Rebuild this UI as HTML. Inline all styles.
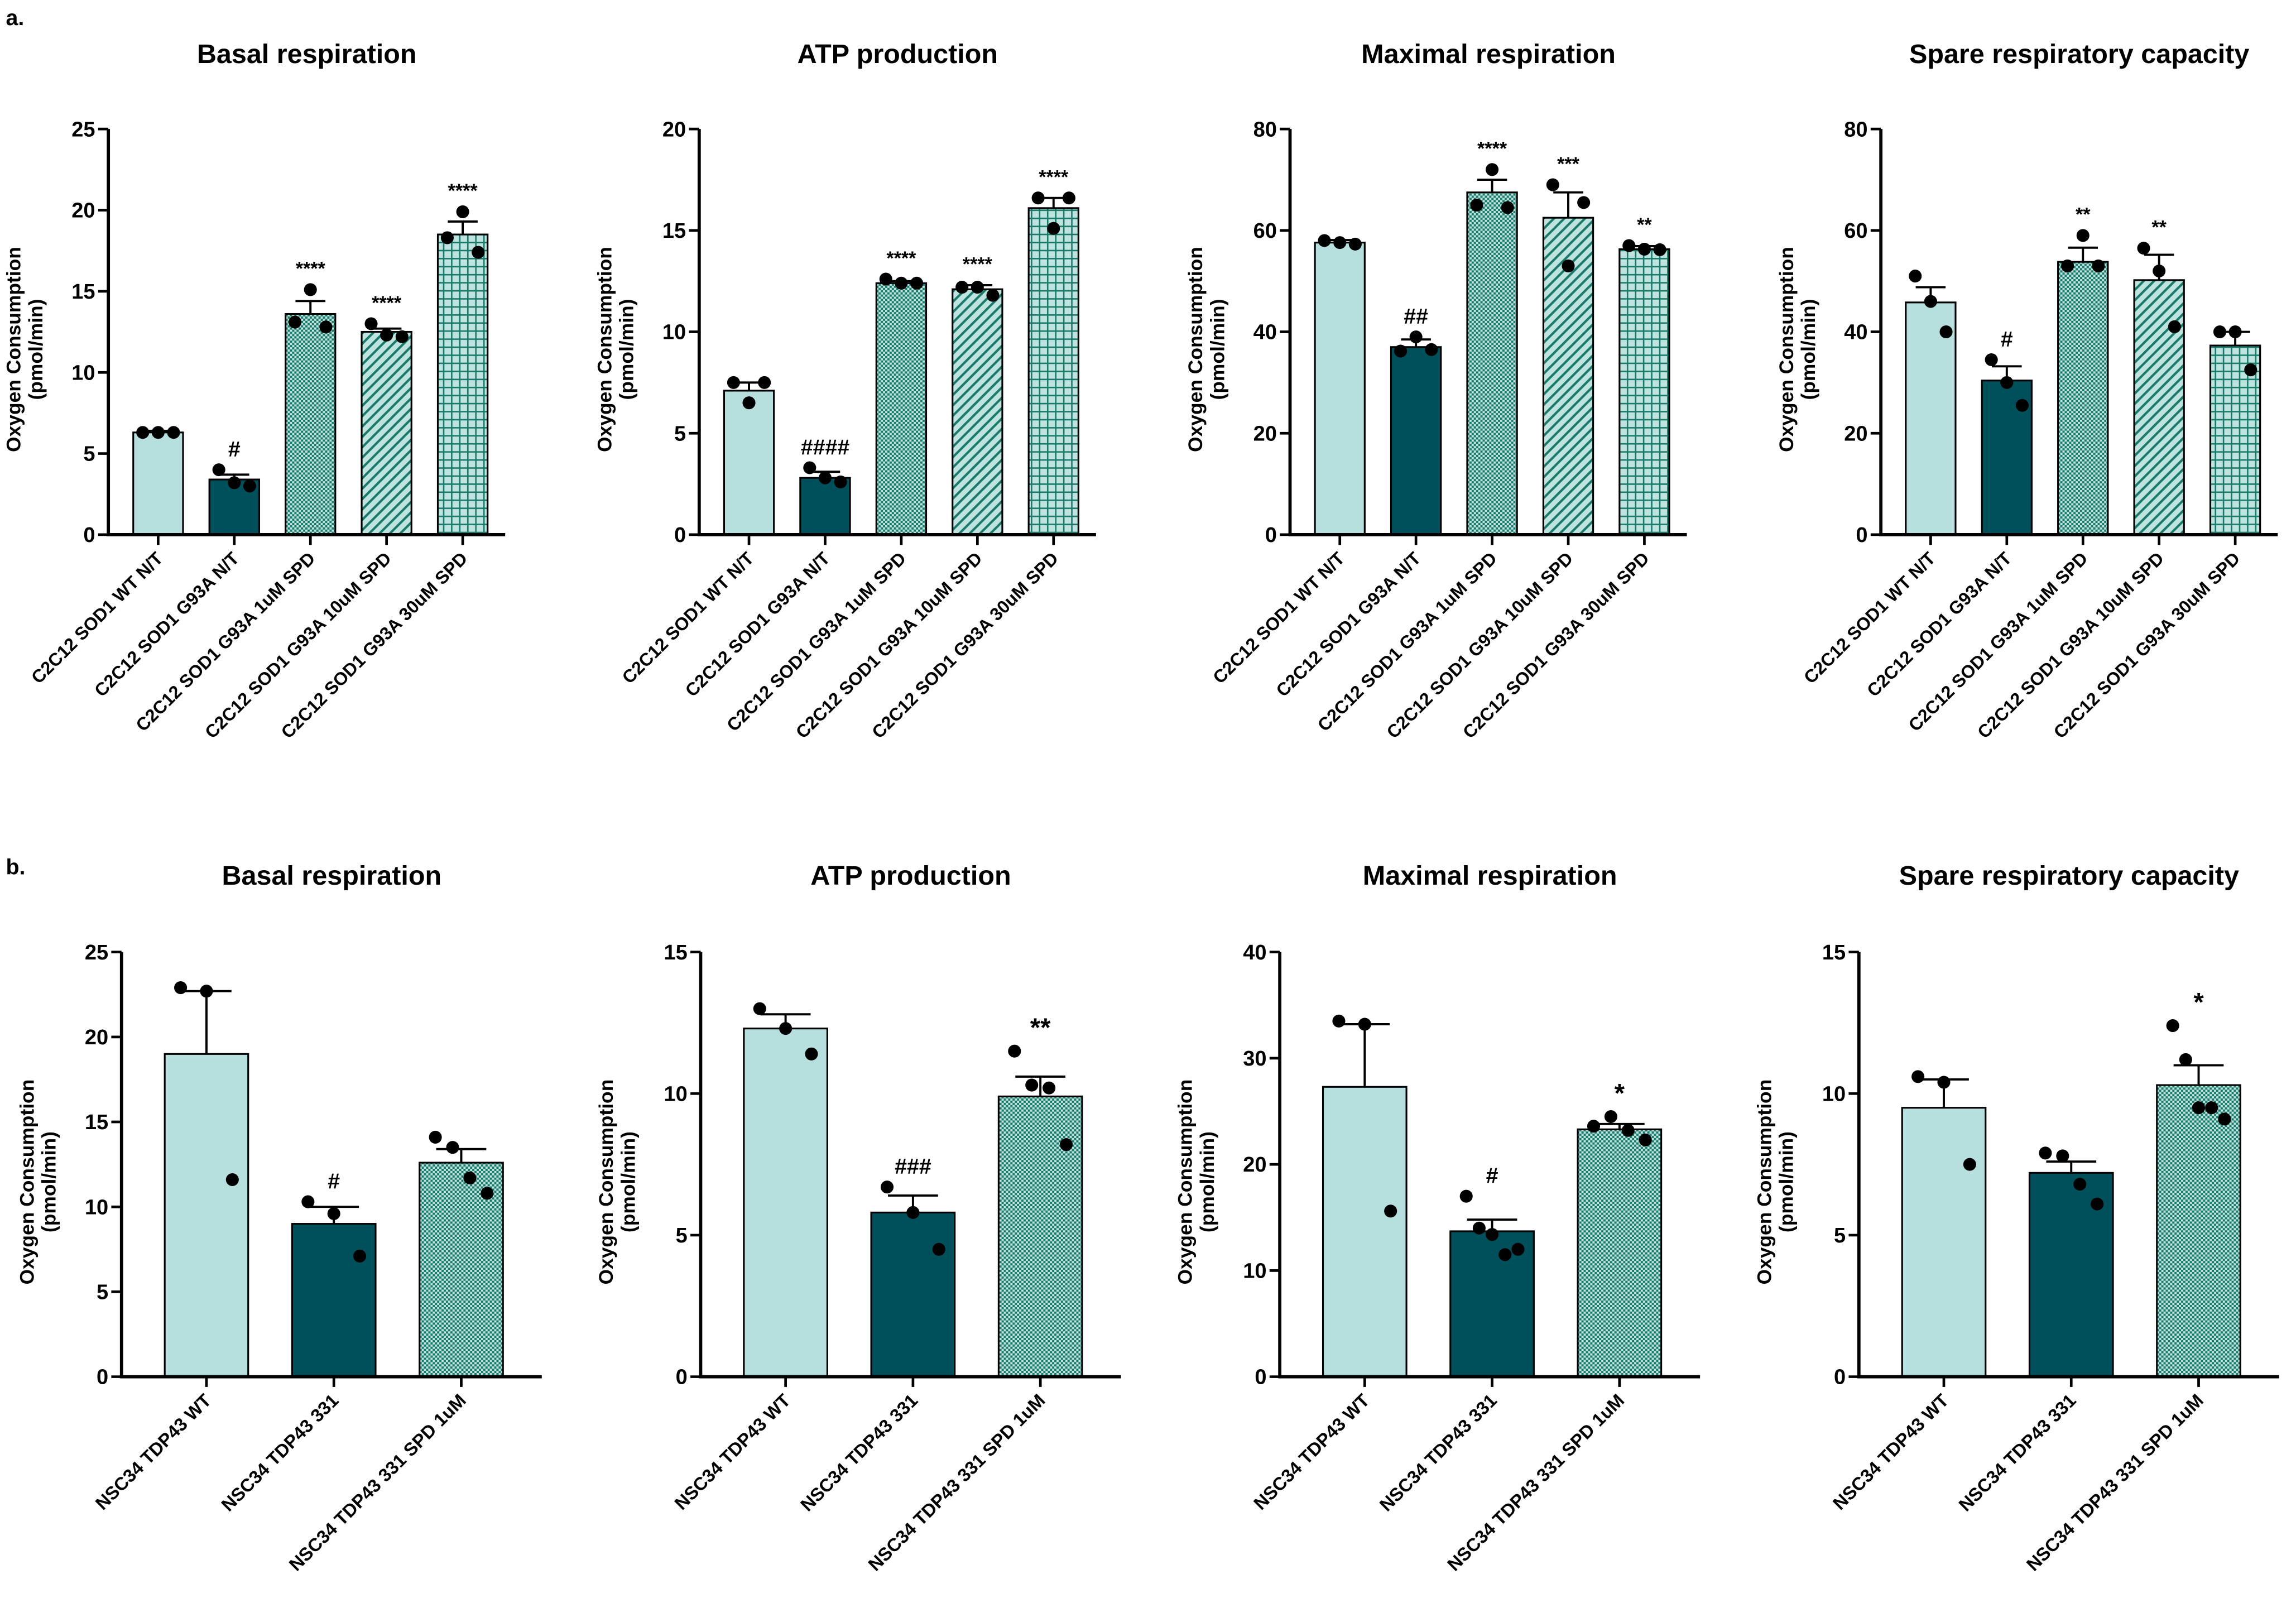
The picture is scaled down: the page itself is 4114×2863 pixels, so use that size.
<!DOCTYPE html>
<html><head><meta charset="utf-8"><style>
html,body{margin:0;padding:0;background:#fff}
svg{display:block}
text{font-family:"Liberation Sans",Arial,sans-serif;font-weight:bold;fill:#000}
</style></head><body>
<svg id="fig" width="4114" height="2863" viewBox="0 0 1568 1091" xmlns="http://www.w3.org/2000/svg">
<defs>
<pattern id="pChk" width="3" height="3" patternUnits="userSpaceOnUse"><rect width="3" height="3" fill="#1a7a6a"/><rect width="1.5" height="1.5" fill="#bfe3df"/><rect x="1.5" y="1.5" width="1.5" height="1.5" fill="#bfe3df"/></pattern>
<pattern id="pDiag" width="5" height="5" patternUnits="userSpaceOnUse" patternTransform="rotate(45)"><rect width="5" height="5" fill="#bfe3df"/><rect width="1.6" height="5" fill="#1a7a6a"/></pattern>
<pattern id="pGrid" width="5.5" height="5.5" patternUnits="userSpaceOnUse"><rect width="5.5" height="5.5" fill="#bfe3df"/><rect width="1" height="5.5" fill="#1a7a6a"/><rect width="5.5" height="1" fill="#1a7a6a"/></pattern>
</defs>
<text x="4" y="17" font-size="15">a.</text>
<text x="4" y="597" font-size="15">b.</text>
</svg>
<script>
const aCats=["C2C12 SOD1 WT N/T","C2C12 SOD1 G93A N/T","C2C12 SOD1 G93A 1uM SPD","C2C12 SOD1 G93A 10uM SPD","C2C12 SOD1 G93A 30uM SPD"];
const bCats=["NSC34 TDP43 WT","NSC34 TDP43 331","NSC34 TDP43 331 SPD 1uM"];
const titles=["Basal respiration","ATP production","Maximal respiration","Spare respiratory capacity"];
const a1Means=[6.3,3.4,13.6,12.5,18.5];const a1Err=[0.1,0.3,0.8,0.2,0.8];
const a1Pts=[[6.3,6.3,6.3],[4,3.2,3],[13.1,15.1,12.8],[13,12.3,12.2],[18.3,19.9,17.4]];const a1Sig=["","#","****","****","****"];const a1Ticks=[0,5,10,15,20,25];
const a2Means=[7.1,2.8,12.4,12.1,16.1];const a2Err=[0.4,0.3,0.1,0.2,0.5];
const a2Pts=[[7.5,6.5,7.5],[3.3,2.8,2.6],[12.6,12.4,12.4],[12.2,12.2,11.8],[16.6,15.1,16.6]];const a2Sig=["","####","****","****","****"];const a2Ticks=[0,5,10,15,20];
const a3Means=[57.6,37,67.5,62.5,56.3];const a3Err=[0.5,1.5,2.5,5,0.6];
const a3Pts=[[58,57.6,57.3],[36.2,39,36.5],[65,72,64.5],[69,53,65.5],[57,56.3,56.2]];const a3Sig=["","##","****","***","**"];const a3Ticks=[0,20,40,60,80];
const a4Means=[45.8,30.4,53.8,50.2,37.3];const a4Err=[3,2.8,2.8,5,2.7];
const a4Pts=[[51,46,40],[34.5,30,25.5],[53,59,53],[56.5,52,41],[40,40,32.5]];const a4Sig=["","#","**","**",""];const a4Ticks=[0,20,40,60,80];
const b1Means=[19,9,12.6];const b1Err=[3.7,1,0.8];
const b1Pts=[[22.9,22.7,11.6],[10.3,9.6,7.1],[14.1,13.5,11.7,10.8]];const b1Sig=["","#",""];const b1Ticks=[0,5,10,15,20,25];
const b2Means=[12.3,5.8,9.9];const b2Err=[0.5,0.6,0.7];
const b2Pts=[[13,12.3,11.4],[6.7,5.8,4.5],[11.5,10.3,10.2,8.2]];const b2Sig=["","###","**"];const b2Ticks=[0,5,10,15];
const b3Means=[27.3,13.7,23.3];const b3Err=[5.9,1.1,0.5];
const b3Pts=[[33.5,33.2,15.6],[17,14,13.4,11.5,12],[23.6,24.5,23.2,22.3]];const b3Sig=["","#","*"];const b3Ticks=[0,10,20,30,40];
const b4Means=[9.5,7.2,10.3];const b4Err=[1,0.4,0.7];
const b4Pts=[[10.6,10.4,7.5],[7.9,7.8,6.8,6.1],[12.4,11.2,9.5,9.5,9.1]];const b4Sig=["","","*"];const b4Ticks=[0,5,10,15];

const NS="http://www.w3.org/2000/svg";const svg=document.getElementById('fig');
function mk(tag,attrs,parent,txt){const e=document.createElementNS(NS,tag);for(const k in attrs)e.setAttribute(k,attrs[k]);if(txt!==undefined)e.textContent=txt;(parent||svg).appendChild(e);return e;}
const aFills=["#b7dfde","#00505b","url(#pChk)","url(#pDiag)","url(#pGrid)"];
const bFills=["#b7dfde","#00505b","url(#pChk)"];
function panel(id,cfg){
 const g=mk('g',{});
 
 
 const {ax,y0,yTop,xEnd,firstC,step,bw,means,err,pts,sig,ticks,cats,fills,title,titleY,lblFs}=cfg;
 const max=ticks[ticks.length-1];
 const ys=v=>y0-(v/max)*(y0-yTop);
 const xs=i=>firstC+i*step;
 const t=mk('text',{x:(ax+xEnd)/2,y:titleY,'font-size':18.5,'text-anchor':'middle'},g,title);
 
 
 const yt=mk('text',{transform:`translate(${ax-60},${(y0+yTop)/2+12}) rotate(-90)`,'font-size':13.5,'text-anchor':'middle'},g);
 
 
 mk('tspan',{x:0,dy:0},yt,'Oxygen Consumption');mk('tspan',{x:0,dy:15},yt,'(pmol/min)');
 means.forEach((m,i)=>{
  const x=xs(i);
  const r=mk('rect',{x:x-bw/2,y:ys(m),width:bw,height:y0-ys(m),fill:fills[i],stroke:'#000','stroke-width':1.2},g);
  
  
  const e=mk('path',{d:`M${x},${ys(m)}V${ys(m+err[i])}M${x-bw*0.3},${ys(m+err[i])}H${x+bw*0.3}`,stroke:'#000','stroke-width':1.5,fill:'none'},g);
  
  
  const n=pts[i].length;
  pts[i].forEach((p,j)=>{
   const off=n===1?0:(j-(n-1)/2)*(bw*0.62/(n-1));
   const c=mk('circle',{cx:x+off,cy:ys(p),r:4.4,fill:'#000'},g);
   
   
  });
  if(sig[i]){
   const top=Math.max(m+err[i],...pts[i]);
   const isHash=sig[i][0]==='#';
   const s=mk('text',{x:x,y:ys(top)-(isHash?9:10),'font-size':isHash?15:(cfg.big?18:13),'text-anchor':'middle','font-weight':'normal'},g,sig[i]);
   
   
  }
  const tk=mk('line',{x1:x,y1:y0,x2:x,y2:y0+7,stroke:'#000','stroke-width':1.8},g);
  
  
  const lb=mk('text',{transform:`translate(${x+4},${y0+17}) rotate(-45)`,'font-size':lblFs,'text-anchor':'end'},g,cats[i]);
  
  
 });
 const axes=mk('path',{d:`M${ax},${yTop}V${y0}H${xEnd}`,stroke:'#000','stroke-width':2.2,fill:'none'},g);
 
 
 ticks.forEach(v=>{
  const l=mk('line',{x1:ax-7,y1:ys(v),x2:ax,y2:ys(v),stroke:'#000','stroke-width':1.8},g);
  
  
  const tl=mk('text',{x:ax-9,y:ys(v)+5,'font-size':14.5,'text-anchor':'end'},g,String(v));
  
  
 });
}
const aData=[[a1Means,a1Err,a1Pts,a1Sig,a1Ticks],[a2Means,a2Err,a2Pts,a2Sig,a2Ticks],[a3Means,a3Err,a3Pts,a3Sig,a3Ticks],[a4Means,a4Err,a4Pts,a4Sig,a4Ticks]];
const bData=[[b1Means,b1Err,b1Pts,b1Sig,b1Ticks],[b2Means,b2Err,b2Pts,b2Sig,b2Ticks],[b3Means,b3Err,b3Pts,b3Sig,b3Ticks],[b4Means,b4Err,b4Pts,b4Sig,b4Ticks]];
aData.forEach((d,k)=>{const o=k*403.5;
 panel('panel-a-'+(k+1),{ax:74+o,y0:365,yTop:88,xEnd:345+o,firstC:108+o,step:52,bw:34,means:d[0],err:d[1],pts:d[2],sig:d[3],ticks:d[4],cats:aCats,fills:aFills,title:titles[k],titleY:43,lblFs:12.3});});
bData.forEach((d,k)=>{const o=k*395.5;
 panel('panel-b-'+(k+1),{ax:83+o,y0:940,yTop:650,xEnd:370+o,firstC:141+o,step:87,bw:57,means:d[0],err:d[1],pts:d[2],sig:d[3],ticks:d[4],cats:bCats,fills:bFills,title:titles[k],titleY:604,lblFs:12.5,big:true});});
</script>
</body></html>
